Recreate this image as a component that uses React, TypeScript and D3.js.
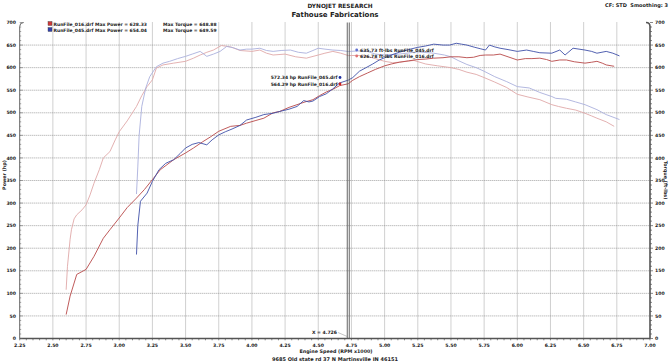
import React from 'react';
import * as d3 from 'd3';

// [rpm x1000, hp]
const power016: [number, number][] = [
  [2.60, 53], [2.63, 94], [2.68, 142], [2.75, 153], [2.81, 182], [2.88, 222], [2.93, 241],
  [3.00, 267], [3.06, 290], [3.13, 311], [3.19, 330], [3.25, 352], [3.31, 374], [3.41, 396],
  [3.50, 411], [3.56, 422], [3.63, 436], [3.69, 447], [3.75, 459], [3.84, 470], [3.91, 472],
  [3.96, 477], [4.03, 483], [4.09, 488], [4.16, 500], [4.21, 503], [4.28, 512], [4.34, 518],
  [4.40, 524], [4.46, 529], [4.51, 538], [4.56, 546], [4.61, 552], [4.66, 560], [4.726, 564.29],
  [4.76, 572], [4.81, 580], [4.87, 588], [4.93, 596], [5.00, 604], [5.05, 608], [5.11, 612],
  [5.18, 615], [5.25, 618], [5.31, 619], [5.37, 621], [5.44, 622], [5.50, 624], [5.56, 624],
  [5.62, 622], [5.67, 623], [5.72, 627], [5.76, 628], [5.82, 628], [5.87, 630], [5.93, 624],
  [6.00, 617], [6.06, 620], [6.11, 620], [6.17, 621], [6.22, 618], [6.26, 614], [6.32, 617],
  [6.37, 617], [6.43, 613], [6.51, 610], [6.56, 612], [6.60, 614], [6.64, 610], [6.67, 606],
  [6.73, 603],
];

const power045: [number, number][] = [
  [3.13, 186], [3.14, 250], [3.16, 304], [3.21, 322], [3.25, 348], [3.30, 374], [3.35, 388],
  [3.41, 396], [3.46, 410], [3.50, 422], [3.55, 430], [3.60, 434], [3.66, 429], [3.70, 440],
  [3.75, 451], [3.80, 458], [3.85, 464], [3.91, 472], [3.96, 484], [4.03, 490], [4.09, 496],
  [4.16, 499], [4.21, 503], [4.28, 508], [4.34, 514], [4.39, 527], [4.43, 524], [4.46, 526],
  [4.51, 536], [4.56, 542], [4.61, 553], [4.66, 566], [4.726, 572.34], [4.76, 578], [4.81, 592],
  [4.86, 600], [4.91, 608], [4.96, 617], [5.00, 622], [5.05, 628], [5.11, 634], [5.18, 640],
  [5.25, 645], [5.31, 648], [5.37, 652], [5.44, 650], [5.49, 650], [5.54, 654], [5.58, 652],
  [5.62, 650], [5.68, 645], [5.72, 642], [5.76, 639], [5.79, 650], [5.83, 646], [5.87, 643],
  [5.93, 640], [6.00, 636], [6.07, 639], [6.12, 636], [6.17, 633], [6.26, 632], [6.32, 639],
  [6.36, 628], [6.42, 643], [6.51, 639], [6.56, 636], [6.60, 632], [6.67, 636], [6.72, 632],
  [6.77, 626],
];

// [rpm x1000, ft-lbs]
const torque016: [number, number][] = [
  [2.60, 108], [2.61, 160], [2.63, 220], [2.64, 241], [2.66, 265], [2.68, 274], [2.72, 285],
  [2.75, 296], [2.78, 318], [2.81, 344], [2.85, 374], [2.88, 400], [2.93, 414], [2.97, 440],
  [3.00, 458], [3.06, 482], [3.13, 514], [3.17, 538], [3.21, 558], [3.25, 573], [3.28, 599],
  [3.33, 606], [3.41, 610], [3.50, 614], [3.56, 621], [3.61, 628], [3.66, 634], [3.71, 639],
  [3.77, 649], [3.84, 646], [3.91, 638], [4.00, 636], [4.06, 639], [4.11, 632], [4.16, 628],
  [4.25, 630], [4.33, 624], [4.41, 621], [4.50, 628], [4.55, 632], [4.61, 636], [4.67, 632],
  [4.726, 626.78], [4.80, 627], [4.87, 625], [4.93, 620], [5.00, 614], [5.06, 611], [5.11, 612],
  [5.22, 616], [5.31, 608], [5.40, 604], [5.50, 600], [5.56, 596], [5.62, 590], [5.69, 585],
  [5.75, 578], [5.83, 568], [5.92, 556], [6.00, 541], [6.08, 535], [6.17, 529], [6.26, 518],
  [6.31, 514], [6.37, 510], [6.44, 506], [6.51, 499], [6.56, 493], [6.60, 488], [6.67, 480],
  [6.73, 470],
];

const torque045: [number, number][] = [
  [3.13, 320], [3.14, 380], [3.15, 450], [3.17, 514], [3.20, 555], [3.23, 580], [3.28, 602],
  [3.33, 610], [3.38, 614], [3.44, 620], [3.50, 625], [3.55, 630], [3.61, 636], [3.66, 625],
  [3.71, 630], [3.76, 636], [3.81, 647], [3.86, 644], [3.91, 639], [3.96, 641], [4.00, 641],
  [4.06, 643], [4.11, 638], [4.16, 636], [4.22, 638], [4.29, 639], [4.35, 634], [4.41, 632],
  [4.46, 638], [4.50, 643], [4.55, 641], [4.61, 639], [4.67, 638], [4.726, 635.73], [4.80, 637],
  [4.87, 636], [4.93, 630], [5.00, 628], [5.11, 630], [5.25, 635], [5.37, 632], [5.45, 628],
  [5.50, 624], [5.56, 615], [5.62, 607], [5.69, 600], [5.75, 592], [5.83, 580], [5.92, 569],
  [6.00, 558], [6.09, 555], [6.17, 545], [6.26, 536], [6.29, 532], [6.37, 530], [6.44, 524],
  [6.51, 518], [6.60, 507], [6.67, 496], [6.77, 485],
];

const legendRows = [
  { file: 'RunFile_016.drf', maxPower: '628.33', maxTorque: '648.88', color: '#d03838' },
  { file: 'RunFile_045.drf', maxPower: '654.04', maxTorque: '649.59', color: '#3040b0' },
];

const cursorX = 4.726;
const rpmTicks = d3.range(2.25, 7.001, 0.25);
const valueTicks = d3.range(0, 701, 50);

const FONT = "'DejaVu Sans', Verdana, sans-serif";
const TXT = '#222';

export default function App() {
  const x = d3.scaleLinear().domain([2.25, 7]).range([19.7, 650]);
  const y = d3.scaleLinear().domain([0, 700]).range([338.5, 22.5]);
  const line = d3.line<[number, number]>().x(d => x(d[0])).y(d => y(d[1]));

  const x0 = x(2.25), x1 = x(7), yTop = y(700), yBot = y(0);
  const cx = x(cursorX);

  return (
    <svg width={670} height={363} style={{ position: 'absolute', left: 0, top: 0, background: '#fff' }}
      fontFamily={FONT} fontWeight="bold">
      {/* header */}
      <text x={340} y={8} textAnchor="middle" fontSize={5.8} fill={TXT}>DYNOJET RESEARCH</text>
      <text x={335} y={17} textAnchor="middle" fontSize={7} fill={TXT}>Fathouse Fabrications</text>
      <text x={668} y={7} textAnchor="end" fontSize={5} fill={TXT}>{'CF: STD\u00a0\u00a0Smoothing: 3'}</text>

      {/* grid */}
      {valueTicks.filter(v => v > 0 && v < 700).map(v => (
        <line key={'h' + v} x1={x0} x2={x1} y1={y(v)} y2={y(v)} stroke="#8a8a8a" strokeWidth={0.8} strokeDasharray="1,1" />
      ))}
      {rpmTicks.filter(r => r > 2.3 && r < 6.9).map(r => (
        <line key={'v' + r} x1={x(r)} x2={x(r)} y1={yTop} y2={yBot} stroke="#8a8a8a" strokeWidth={0.8} strokeDasharray="1,1" />
      ))}

      {/* axes */}
      <path d={`M${x0},${yBot}V${yTop + 4}Q${x0},${yTop} ${x0 + 4},${yTop}`} fill="none" stroke="#666" strokeWidth={1} />
      <path d={`M${x1},${yBot}V${yTop + 4}Q${x1},${yTop} ${x1 - 4},${yTop}`} fill="none" stroke="#555" strokeWidth={1.6} />
      <line x1={x0} x2={x1} y1={yBot} y2={yBot} stroke="#555" strokeWidth={1.4} />
      {d3.range(0, 701, 10).map(v => (
        <g key={'t' + v}>
          <line x1={x0} x2={x0 + (v % 50 === 0 ? 3 : 1.5)} y1={y(v)} y2={y(v)} stroke="#666" strokeWidth={0.6} />
          <line x1={x1} x2={x1 + (v % 50 === 0 ? 3 : 2)} y1={y(v)} y2={y(v)} stroke="#555" strokeWidth={0.7} />
        </g>
      ))}
      {d3.range(2.25, 7.001, 0.05).map(r => (
        <line key={'bt' + r} x1={x(r)} x2={x(r)} y1={yBot} y2={yBot + 1.8} stroke="#555" strokeWidth={0.7} />
      ))}

      {/* tick labels */}
      {valueTicks.map(v => (
        <g key={'l' + v}>
          <text x={16} y={y(v) + 1.6} textAnchor="end" fontSize={4.6} fill={TXT}>{v}</text>
          <text x={655} y={y(v) + 1.6} textAnchor="start" fontSize={4.6} fill={TXT}>{v}</text>
        </g>
      ))}
      {rpmTicks.map(r => (
        <text key={'xl' + r} x={x(r)} y={346.5} textAnchor="middle" fontSize={4.6} fill={TXT}>{r.toFixed(2)}</text>
      ))}
      <text x={336} y={352.5} textAnchor="middle" fontSize={4.8} fill={TXT}>Engine Speed (RPM x1000)</text>
      <text x={335} y={361} textAnchor="middle" fontSize={5} fill={TXT}>9685 Old state rd 37 N Martinsville IN 46151</text>
      <text transform="translate(6,175) rotate(-90)" textAnchor="middle" fontSize={4.8} fill={TXT}>Power (hp)</text>
      <text transform="translate(664,180) rotate(90)" textAnchor="middle" fontSize={4.8} fill={TXT}>Torque (ft-lbs)</text>

      {/* curves */}
      <path d={line(torque016) || ''} fill="none" stroke="#e0a8a8" strokeWidth={0.9} />
      <path d={line(torque045) || ''} fill="none" stroke="#aab0dc" strokeWidth={0.9} />
      <path d={line(power016) || ''} fill="none" stroke="#b84848" strokeWidth={0.9} />
      <path d={line(power045) || ''} fill="none" stroke="#4050a8" strokeWidth={0.9} />

      {/* cursor */}
      <line x1={cx - 1} x2={cx - 1} y1={yTop} y2={yBot} stroke="#555" strokeWidth={0.9} />
      <line x1={cx + 1} x2={cx + 1} y1={yTop} y2={yBot} stroke="#555" strokeWidth={0.9} />
      <text x={337} y={334} textAnchor="end" fontSize={4.6} fill={TXT}>X = 4.726</text>
      <line x1={338} x2={cx - 1} y1={332.5} y2={336.5} stroke="#888" strokeWidth={0.5} />

      {/* cursor readouts */}
      <circle cx={356.7} cy={50} r={1.4} fill="#6070d0" />
      <text x={360} y={51.8} fontSize={4.5} fill={TXT}>635.73 ft-lbs RunFile_045.drf</text>
      <circle cx={356.7} cy={56} r={1.4} fill="#e07070" />
      <text x={360} y={57.8} fontSize={4.5} fill={TXT}>626.78 ft-lbs RunFile_016.drf</text>
      <circle cx={340} cy={77.5} r={1.4} fill="#2030a0" />
      <text x={337.5} y={79.3} textAnchor="end" fontSize={4.5} fill={TXT}>572.34 hp RunFile_045.drf</text>
      <circle cx={340} cy={84} r={1.4} fill="#d02020" />
      <text x={337.5} y={85.8} textAnchor="end" fontSize={4.5} fill={TXT}>564.29 hp RunFile_016.drf</text>

      {/* legend */}
      {legendRows.map((row, i) => (
        <g key={row.file} transform={`translate(0,${i * 6})`}>
          <rect x={48} y={21.5} width={4} height={4} fill={row.color} stroke="#444" strokeWidth={0.4} />
          <text x={53.5} y={25.5} fontSize={4.5} fill={TXT}>{`${row.file} Max Power = ${row.maxPower}`}</text>
          <text x={163} y={25.5} fontSize={4.5} fill={TXT}>{`Max Torque = ${row.maxTorque}`}</text>
        </g>
      ))}
    </svg>
  );
}
